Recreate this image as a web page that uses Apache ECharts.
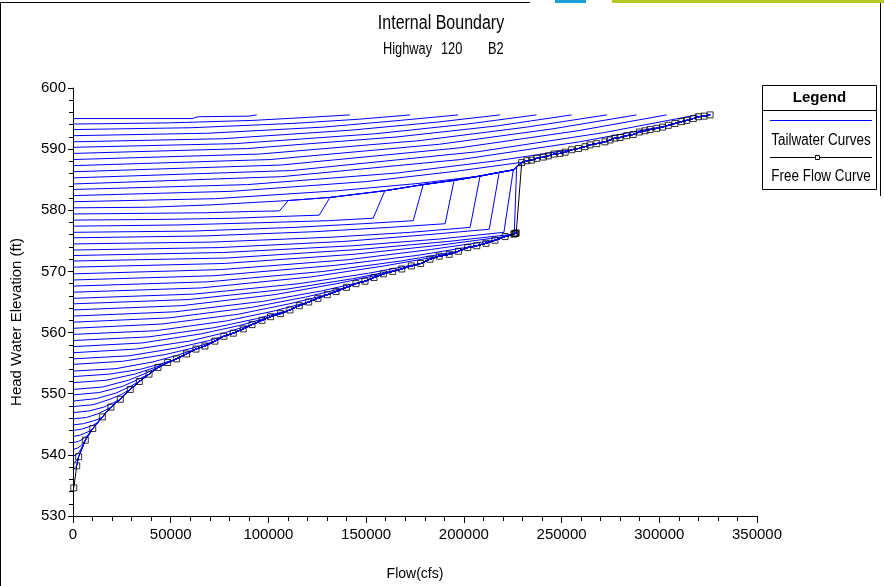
<!DOCTYPE html>
<html>
<head>
<meta charset="utf-8">
<script src="https://cdn.jsdelivr.net/npm/echarts@6/dist/echarts.min.js"></script>
<style>
html,body{margin:0;padding:0;background:#fff;}
#chart{width:884px;height:586px;}
</style>
</head>
<body>
<div id="chart"></div>
<script>
// ---------- DATA ----------
const titleText = 'Internal Boundary';
const subtitleParts = ['Highway', '120', 'B2'];
const xAxisName = 'Flow(cfs)';
const yAxisName = 'Head Water Elevation (ft)';
const legendTitle = 'Legend';
const legendNames = ['Tailwater Curves', 'Free Flow Curve'];

// Free flow curve, lower branch [flow cfs, elevation ft]
const freeFlowLower = [
  [400,534.6],[1900,538.2],[2900,539.7],[6300,542.4],[10100,544.3],[15000,546.2],[19400,547.8],
  [24200,549.1],[29300,550.7],[33900,552.0],[38900,553.2],[43500,554.3],[48400,555.1],[53000,555.7],
  [58100,556.5],[62900,557.3],[67500,557.8],[72600,558.6],[77200,559.4],[82000,559.9],[87100,560.6],
  [91600,561.3],[96700,562.0],[101100,562.6],[106100,563.1],[111000,563.7],[115800,564.4],[120600,565.0],
  [125300,565.6],[130100,566.2],[134600,566.7],[140000,567.4],[144800,568.0],[149400,568.4],[154000,569.0],
  [158800,569.6],[163600,570.0],[168200,570.4],[173100,570.9],[177900,571.3],[182700,572.0],[187400,572.5],
  [192500,572.8],[197200,573.3],[202000,573.9],[206600,574.2],[211300,574.6],[215900,575.1],[221100,575.7],
  [225600,576.1],[226000,576.2],[226400,576.2],[226800,576.3]
];
// Free flow curve, upper branch
const freeFlowUpper = [
  [229600,587.8],[232200,588.1],[234700,588.2],[237300,588.5],[240700,588.7],[243200,588.9],[246100,589.2],
  [249200,589.3],[251800,589.5],[255200,589.9],[258600,590.1],[262000,590.4],[264500,590.7],[268000,590.9],
  [272200,591.2],[274800,591.5],[277300,591.8],[279900,591.9],[283300,592.2],[286700,592.4],[289800,592.8],
  [292700,593.0],[295200,593.2],[298700,593.4],[301700,593.6],[304600,593.9],[308000,594.2],[311500,594.5],
  [314000,594.7],[317400,595.0],[320000,595.3],[322900,595.4],[326000,595.6]
];
// Upper limit line that the submerged curves jump onto
const envelopePoints = [
  [110200,581.6],[131500,582.1],[159600,583.2],[179200,584.2],[195000,584.9],
  [208300,585.6],[218100,586.2],[225300,586.6],[227000,587.1]
];

// Tailwater curves (each starts at its tailwater elevation at zero flow)
const tailwaterPoints = [
  [[0,595.0],[61000,595.0],[64000,595.3],[90000,595.4],[94000,595.6]],
  [[0,594.1],[49600,594.3],[92100,594.7],[120400,595.2],[141700,595.6]],
  [[0,593.2],[60400,593.5],[112100,594.2],[146600,594.9],[172500,595.6]],
  [[0,592.2],[69000,592.6],[128000,593.6],[167400,594.7],[197000,595.6]],
  [[0,591.2],[76500,591.7],[142000,593.1],[185700,594.4],[218500,595.6]],
  [[0,590.3],[83000,590.9],[154200,592.5],[201600,594.1],[237200,595.6]],
  [[0,589.3],[89300,590.1],[165900,592.0],[216900,593.8],[255200,595.6]],
  [[0,588.3],[95600,589.2],[177500,591.4],[232100,593.6],[273100,595.6]],
  [[0,587.3],[100900,588.3],[187500,590.8],[245100,593.3],[288400,595.6]],
  [[0,586.3],[106300,587.4],[197500,590.2],[258200,593.0],[303800,595.6]],
  [[0,585.3],[111800,586.5],[207700,589.6],[271600,592.7],[319500,595.6]],
  [[0,584.3],[106800,585.5],[198300,588.3],[259300,591.2],[305000,593.9]],
  [[0,583.4],[89300,584.2],[165800,586.1],[216800,588.1],[255000,589.9]],
  [[0,582.4],[80900,583.1],[150200,584.7],[196400,586.4],[231000,587.9]],
  [[0,581.4],[72900,581.9],[135400,583.2],[177100,584.4],[208300,585.6]],
  [[0,580.4],[38600,580.5],[71600,580.9],[93700,581.3],[110200,581.6]],
  [[0,579.4],[37000,579.5],[68600,579.6],[89800,579.8],[105600,579.9],[110200,581.6]],
  [[0,578.4],[44100,578.5],[81900,578.7],[107100,579.0],[126000,579.2],[131500,582.1]],
  [[0,577.4],[53800,577.6],[99800,578.0],[130600,578.3],[153600,578.7],[159600,583.2]],
  [[0,576.4],[60900,576.6],[113200,577.2],[148000,577.8],[174100,578.3],[179200,584.2]],
  [[0,575.5],[66600,575.8],[123800,576.5],[161800,577.2],[190400,577.8],[195000,584.9]],
  [[0,574.5],[71100,574.8],[132100,575.6],[172700,576.4],[203200,577.2],[208300,585.6]],
  [[0,573.5],[74600,573.9],[138500,574.9],[181100,576.0],[213000,576.9],[218100,586.2]],
  [[0,572.6],[77200,573.1],[143300,574.2],[187400,575.3],[220500,576.4],[225300,586.6]],
  [[0,571.7],[79000,572.2],[146800,573.6],[191900,574.9],[225800,576.1],[227000,587.1]],
  [[0,570.7],[77400,571.3],[143700,572.8],[187900,574.3],[221100,575.7]],
  [[0,569.6],[75600,570.3],[140300,571.9],[183500,573.6],[215900,575.1]],
  [[0,568.6],[72300,569.3],[134300,571.0],[175600,572.6],[206600,574.2]],
  [[0,567.6],[69000,568.3],[128200,570.0],[167600,571.7],[197200,573.3]],
  [[0,566.6],[65600,567.3],[121800,569.1],[159300,570.9],[187400,572.5]],
  [[0,565.6],[62300,566.3],[115600,568.0],[151200,569.7],[177900,571.3]],
  [[0,564.7],[58900,565.4],[109300,567.1],[143000,568.8],[168200,570.4]],
  [[0,563.7],[55600,564.4],[103200,566.2],[135000,568.0],[158800,569.6]],
  [[0,562.7],[52300,563.4],[97100,565.1],[127000,566.8],[149400,568.4]],
  [[0,561.7],[49000,562.4],[91000,564.1],[119000,565.8],[140000,567.4]],
  [[0,560.7],[45500,561.4],[84600,563.0],[110600,564.7],[130100,566.2]],
  [[0,559.7],[42200,560.3],[78400,561.9],[102500,563.5],[120600,565.0]],
  [[0,558.7],[38900,559.3],[72200,560.8],[94400,562.3],[111000,563.7]],
  [[0,557.7],[35400,558.3],[65700,559.8],[85900,561.2],[101100,562.6]],
  [[0,556.7],[32100,557.3],[59500,558.6],[77900,560.0],[91600,561.3]],
  [[0,555.7],[28700,556.2],[53300,557.5],[69700,558.7],[82000,559.9]],
  [[0,554.8],[25400,555.3],[47200,556.4],[61700,557.5],[72600,558.6]],
  [[0,553.7],[22000,554.1],[40900,555.2],[53500,556.3],[62900,557.3]],
  [[0,552.8],[18600,553.2],[34500,554.0],[45100,554.9],[53000,555.7]],
  [[0,551.8],[16900,552.2],[31500,553.2],[41100,554.2],[48400,555.1]],
  [[0,550.7],[15200,551.1],[28300,552.2],[37000,553.3],[43500,554.3]],
  [[0,549.8],[13600,550.2],[25300,551.2],[33100,552.3],[38900,553.2]],
  [[0,548.8],[11900,549.2],[22000,550.1],[28800,551.1],[33900,552.0]],
  [[0,547.9],[10300,548.2],[19000,549.1],[24900,549.9],[29300,550.7]],
  [[0,546.9],[8500,547.2],[15700,547.8],[20600,548.5],[24200,549.1]],
  [[0,545.9],[6800,546.1],[12600,546.7],[16500,547.3],[19400,547.8]],
  [[0,544.9],[5300,545.1],[9800,545.5],[12800,545.8],[15000,546.2]],
  [[0,544.0],[4400,544.2],[8100,544.6],[10600,544.9],[12500,545.3]],
  [[0,543.0],[3500,543.2],[6500,543.6],[8500,543.9],[10100,544.3]],
  [[0,542.0],[2800,542.2],[5200,542.6],[6800,543.0],[8000,543.4]],
  [[0,540.9],[2200,541.1],[4100,541.5],[5400,542.0],[6300,542.4]],
  [[0,539.8],[1600,540.0],[2900,540.4],[3800,540.8],[4500,541.2]],
  [[0,538.7],[1000,538.8],[2000,539.1],[2600,539.4],[2900,539.7]],
  [[0,537.6],[1000,537.8],[1900,538.2]]
];
// What each tailwater curve continues along after its own points
const tailwaterJoin = [
  'top','top','top','top','top','top','top','top','top','top','top',
  'branch','branch','branch',
  'env','env',
  'env','env','env','env','env','env','env','env','env',
  'ff','ff','ff','ff','ff','ff','ff','ff','ff','ff','ff','ff','ff','ff','ff','ff','ff',
  'ff','ff','ff','ff','ff','ff','ff','ff','ff','ff','ff','ff','ff','ff','ff','ff','ff'
];

// ---------- CHART ----------
const SANS = "'Liberation Sans',Arial,sans-serif";
const NARROW_SCALE = 0.8;

const tails = {
  top: [],
  branch: freeFlowUpper,
  env: envelopePoints.concat(freeFlowUpper),
  ff: freeFlowLower
};
function fullCurve(points, join) {
  const last = points[points.length - 1][0];
  return points.concat(tails[join].filter(p => p[0] > last));
}

const series = [];
series.push({
  type: 'line', name: 'Free Flow Curve line', data: freeFlowLower.concat(freeFlowUpper),
  showSymbol: false, symbol: 'none', z: 1, silent: true,
  lineStyle: { color: '#000', width: 1 }
});
tailwaterPoints.forEach((pts, i) => {
  series.push({
    type: 'line', name: legendNames[0], data: fullCurve(pts, tailwaterJoin[i]),
    showSymbol: false, symbol: 'none', z: 2, silent: true,
    lineStyle: { color: '#0000ff', width: 1 }
  });
});
series.push({
  type: 'scatter', name: legendNames[1], data: freeFlowLower.concat(freeFlowUpper),
  symbol: 'rect', symbolSize: 6, z: 3, silent: true,
  itemStyle: { color: 'rgba(0,0,0,0)', borderColor: '#000', borderWidth: 1 }
});

function narrowText(text, x, y, size, align, vAlign, scale) {
  return {
    type: 'text', x: x, y: y, scaleX: scale || NARROW_SCALE, scaleY: 1, silent: true,
    style: { text: text, fill: '#000', font: size + 'px ' + SANS,
             textAlign: align, textVerticalAlign: vAlign }
  };
}

const chart = echarts.init(document.getElementById('chart'), null, { renderer: 'canvas' });
chart.setOption({
  animation: false,
  backgroundColor: '#fff',
  grid: { left: 73, top: 88, right: 127, bottom: 65, containLabel: false },
  xAxis: {
    type: 'value', min: 0, max: 350000, interval: 50000,
    name: xAxisName, nameLocation: 'middle', nameGap: 51,
    nameTextStyle: { color: '#000', fontSize: 14, fontFamily: SANS },
    axisLine: { show: true, lineStyle: { color: '#000', width: 1 } },
    axisTick: { show: true, length: 7, lineStyle: { color: '#000' } },
    minorTick: { show: true, splitNumber: 5, length: 5, lineStyle: { color: '#000' } },
    splitLine: { show: false },
    axisLabel: { color: '#000', fontSize: 15, fontFamily: SANS, margin: 11,
                 formatter: function (v) { return String(v); } }
  },
  yAxis: {
    type: 'value', min: 530, max: 600, interval: 10,
    axisLine: { show: true, lineStyle: { color: '#000', width: 1 } },
    axisTick: { show: true, length: 5, lineStyle: { color: '#000' } },
    minorTick: { show: true, splitNumber: 5, length: 4, lineStyle: { color: '#000' } },
    splitLine: { show: false },
    axisLabel: { color: '#000', fontSize: 15, fontFamily: SANS, margin: 7 }
  },
  series: series,
  graphic: [
    // outer frame pieces
    { type: 'line', shape: { x1: 0, y1: 2.5, x2: 530, y2: 2.5 }, style: { stroke: '#000', lineWidth: 1 }, silent: true },
    { type: 'line', shape: { x1: 0.5, y1: 2, x2: 0.5, y2: 586 }, style: { stroke: '#000', lineWidth: 1 }, silent: true },
    { type: 'line', shape: { x1: 880.5, y1: 0, x2: 880.5, y2: 196 }, style: { stroke: '#000', lineWidth: 1 }, silent: true },
    { type: 'rect', shape: { x: 555, y: 0, width: 31, height: 3 }, style: { fill: '#1e9ed4' }, silent: true },
    { type: 'rect', shape: { x: 612, y: 0, width: 272, height: 3 }, style: { fill: '#b9c81e' }, silent: true },
    // y axis name
    { type: 'text', x: 17, y: 322, rotation: Math.PI / 2, silent: true,
      style: { text: yAxisName, fill: '#000', font: '15px ' + SANS, textAlign: 'center', textVerticalAlign: 'middle' } },
    // title
    narrowText(titleText, 441, 23, 20, 'center', 'middle'),
    narrowText(subtitleParts[0], 383, 50, 16, 'left', 'middle'),
    narrowText(subtitleParts[1], 441, 50, 16, 'left', 'middle'),
    narrowText(subtitleParts[2], 488, 50, 16, 'left', 'middle'),
    // legend box
    { type: 'rect', shape: { x: 762.5, y: 85.5, width: 114, height: 104 }, style: { fill: '#fff', stroke: '#000', lineWidth: 1 }, silent: true },
    { type: 'line', shape: { x1: 762.5, y1: 110.5, x2: 876.5, y2: 110.5 }, style: { stroke: '#000', lineWidth: 1 }, silent: true },
    { type: 'text', x: 819.5, y: 98, silent: true,
      style: { text: legendTitle, fill: '#000', font: 'bold 15px ' + SANS, textAlign: 'center', textVerticalAlign: 'middle' } },
    { type: 'line', shape: { x1: 770, y1: 120.5, x2: 872, y2: 120.5 }, style: { stroke: '#0000ff', lineWidth: 1 }, silent: true },
    narrowText(legendNames[0], 821, 141, 16, 'center', 'middle', 0.84),
    { type: 'line', shape: { x1: 770, y1: 157.5, x2: 872, y2: 157.5 }, style: { stroke: '#000', lineWidth: 1 }, silent: true },
    { type: 'rect', shape: { x: 815.5, y: 155.5, width: 4, height: 4 }, style: { fill: '#fff', stroke: '#000', lineWidth: 1 }, silent: true },
    narrowText(legendNames[1], 821, 177, 16, 'center', 'middle', 0.84)
  ]
});
</script>
</body>
</html>
